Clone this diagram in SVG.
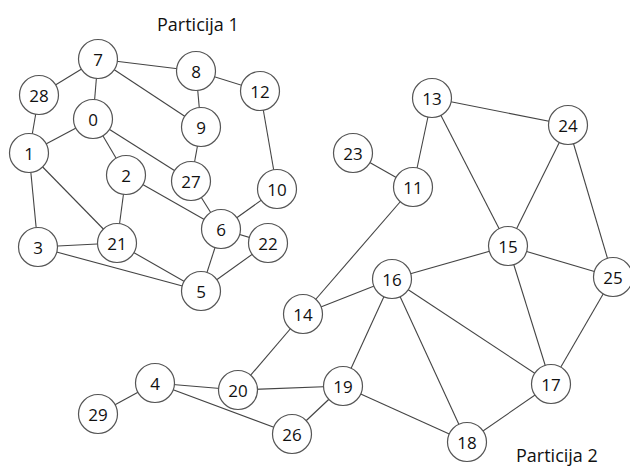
<svg xmlns="http://www.w3.org/2000/svg" width="630" height="467" viewBox="0 0 630 467">
  <style>
    .edge { stroke: #444; stroke-width: 1.1; fill: none; }
    .node circle { fill: #fff; stroke: #555; stroke-width: 1.2; }
    .node text { font-family: "Open Sans", "Liberation Sans", sans-serif; font-size: 17px; fill: #111; text-anchor: middle; dominant-baseline: central; }
    .title { font-family: "Open Sans", "Liberation Sans", sans-serif; font-size: 18px; fill: #111; }
  </style>
  <rect width="630" height="467" fill="#fff"/>

  <text class="title" x="157" y="31">Particija 1</text>
  <text class="title" x="516" y="462">Particija 2</text>

  <g id="edges">
    <!-- partition 1 -->
    <line class="edge" x1="98" y1="59" x2="39" y2="95"/>
    <line class="edge" x1="98" y1="59" x2="196" y2="71"/>
    <line class="edge" x1="98" y1="59" x2="93" y2="119"/>
    <line class="edge" x1="98" y1="59" x2="201" y2="127"/>
    <line class="edge" x1="196" y1="71" x2="201" y2="127"/>
    <line class="edge" x1="196" y1="71" x2="260" y2="91"/>
    <line class="edge" x1="39" y1="95" x2="29" y2="153"/>
    <line class="edge" x1="93" y1="119" x2="29" y2="153"/>
    <line class="edge" x1="93" y1="119" x2="126" y2="175"/>
    <line class="edge" x1="93" y1="119" x2="191" y2="181"/>
    <line class="edge" x1="201" y1="127" x2="191" y2="181"/>
    <line class="edge" x1="260" y1="91" x2="277" y2="189"/>
    <line class="edge" x1="29" y1="153" x2="38" y2="247"/>
    <line class="edge" x1="29" y1="153" x2="117" y2="243"/>
    <line class="edge" x1="126" y1="175" x2="117" y2="243"/>
    <line class="edge" x1="126" y1="175" x2="221" y2="229"/>
    <line class="edge" x1="191" y1="181" x2="221" y2="229"/>
    <line class="edge" x1="277" y1="189" x2="221" y2="229"/>
    <line class="edge" x1="221" y1="229" x2="268" y2="243"/>
    <line class="edge" x1="221" y1="229" x2="201" y2="291"/>
    <line class="edge" x1="38" y1="247" x2="117" y2="243"/>
    <line class="edge" x1="38" y1="247" x2="201" y2="291"/>
    <line class="edge" x1="117" y1="243" x2="201" y2="291"/>
    <line class="edge" x1="268" y1="243" x2="201" y2="291"/>
    <!-- partition 2 -->
    <line class="edge" x1="432" y1="98" x2="413" y2="187"/>
    <line class="edge" x1="432" y1="98" x2="568" y2="125"/>
    <line class="edge" x1="432" y1="98" x2="508" y2="246"/>
    <line class="edge" x1="353" y1="153" x2="413" y2="187"/>
    <line class="edge" x1="413" y1="187" x2="303" y2="314"/>
    <line class="edge" x1="568" y1="125" x2="508" y2="246"/>
    <line class="edge" x1="568" y1="125" x2="613" y2="277"/>
    <line class="edge" x1="508" y1="246" x2="392" y2="279"/>
    <line class="edge" x1="508" y1="246" x2="613" y2="277"/>
    <line class="edge" x1="508" y1="246" x2="551" y2="384"/>
    <line class="edge" x1="613" y1="277" x2="551" y2="384"/>
    <line class="edge" x1="392" y1="279" x2="303" y2="314"/>
    <line class="edge" x1="392" y1="279" x2="343" y2="386"/>
    <line class="edge" x1="392" y1="279" x2="467" y2="442"/>
    <line class="edge" x1="392" y1="279" x2="551" y2="384"/>
    <line class="edge" x1="303" y1="314" x2="238" y2="390"/>
    <line class="edge" x1="155" y1="383" x2="98" y2="414"/>
    <line class="edge" x1="155" y1="383" x2="238" y2="390"/>
    <line class="edge" x1="155" y1="383" x2="292" y2="434"/>
    <line class="edge" x1="238" y1="390" x2="343" y2="386"/>
    <line class="edge" x1="343" y1="386" x2="292" y2="434"/>
    <line class="edge" x1="343" y1="386" x2="467" y2="442"/>
    <line class="edge" x1="467" y1="442" x2="551" y2="384"/>
  </g>

  <g id="n7" class="node"><circle cx="98" cy="59" r="19.5"/><text x="98" y="59">7</text></g>
  <g id="n8" class="node"><circle cx="196" cy="71" r="19.5"/><text x="196" y="71">8</text></g>
  <g id="n12" class="node"><circle cx="260" cy="91" r="19.5"/><text x="260" y="91">12</text></g>
  <g id="n28" class="node"><circle cx="39" cy="95" r="19.5"/><text x="39" y="95">28</text></g>
  <g id="n0" class="node"><circle cx="93" cy="119" r="19.5"/><text x="93" y="119">0</text></g>
  <g id="n9" class="node"><circle cx="201" cy="127" r="19.5"/><text x="201" y="127">9</text></g>
  <g id="n1" class="node"><circle cx="29" cy="153" r="19.5"/><text x="29" y="153">1</text></g>
  <g id="n2" class="node"><circle cx="126" cy="175" r="19.5"/><text x="126" y="175">2</text></g>
  <g id="n27" class="node"><circle cx="191" cy="181" r="19.5"/><text x="191" y="181">27</text></g>
  <g id="n10" class="node"><circle cx="277" cy="189" r="19.5"/><text x="277" y="189">10</text></g>
  <g id="n6" class="node"><circle cx="221" cy="229" r="19.5"/><text x="221" y="229">6</text></g>
  <g id="n22" class="node"><circle cx="268" cy="243" r="19.5"/><text x="268" y="243">22</text></g>
  <g id="n21" class="node"><circle cx="117" cy="243" r="19.5"/><text x="117" y="243">21</text></g>
  <g id="n3" class="node"><circle cx="38" cy="247" r="19.5"/><text x="38" y="247">3</text></g>
  <g id="n5" class="node"><circle cx="201" cy="291" r="19.5"/><text x="201" y="291">5</text></g>

  <g id="n13" class="node"><circle cx="432" cy="98" r="19.5"/><text x="432" y="98">13</text></g>
  <g id="n24" class="node"><circle cx="568" cy="125" r="19.5"/><text x="568" y="125">24</text></g>
  <g id="n23" class="node"><circle cx="353" cy="153" r="19.5"/><text x="353" y="153">23</text></g>
  <g id="n11" class="node"><circle cx="413" cy="187" r="19.5"/><text x="413" y="187">11</text></g>
  <g id="n15" class="node"><circle cx="508" cy="246" r="19.5"/><text x="508" y="246">15</text></g>
  <g id="n25" class="node"><circle cx="613" cy="277" r="19.5"/><text x="613" y="277">25</text></g>
  <g id="n16" class="node"><circle cx="392" cy="279" r="19.5"/><text x="392" y="279">16</text></g>
  <g id="n14" class="node"><circle cx="303" cy="314" r="19.5"/><text x="303" y="314">14</text></g>
  <g id="n4" class="node"><circle cx="155" cy="383" r="19.5"/><text x="155" y="383">4</text></g>
  <g id="n20" class="node"><circle cx="238" cy="390" r="19.5"/><text x="238" y="390">20</text></g>
  <g id="n19" class="node"><circle cx="343" cy="386" r="19.5"/><text x="343" y="386">19</text></g>
  <g id="n29" class="node"><circle cx="98" cy="414" r="19.5"/><text x="98" y="414">29</text></g>
  <g id="n26" class="node"><circle cx="292" cy="434" r="19.5"/><text x="292" y="434">26</text></g>
  <g id="n17" class="node"><circle cx="551" cy="384" r="19.5"/><text x="551" y="384">17</text></g>
  <g id="n18" class="node"><circle cx="467" cy="442" r="19.5"/><text x="467" y="442">18</text></g>
</svg>
